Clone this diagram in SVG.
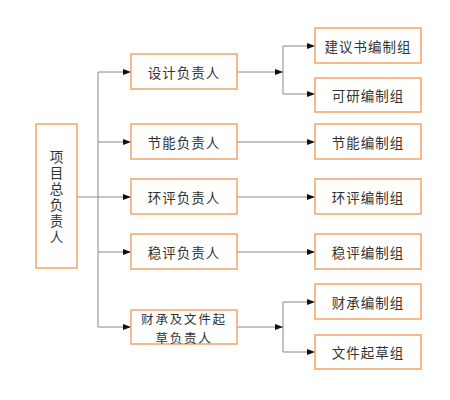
<svg xmlns="http://www.w3.org/2000/svg" width="450" height="400" viewBox="0 0 450 400">
<style>
.box{fill:#fff;stroke:#F5A26A;stroke-width:1.5}
.t{font-family:"Noto Sans CJK SC","Noto Sans",sans-serif;font-size:13.5px;fill:#333;text-anchor:middle;dominant-baseline:central;letter-spacing:1px}
.s{font-size:12.5px;letter-spacing:1.8px}
.v{font-family:"Noto Sans CJK SC","Noto Sans",sans-serif;font-size:13.5px;fill:#333;text-anchor:middle;writing-mode:vertical-rl;letter-spacing:2.5px}
.ln{fill:none;stroke:#888;stroke-width:1}
</style>
<defs>
<marker id="ah" markerWidth="8" markerHeight="6" refX="8" refY="3" orient="auto" markerUnits="userSpaceOnUse">
<path d="M0,0 L8,3 L0,6 Z" fill="#111"/>
</marker>
</defs>
<rect width="450" height="400" fill="#fff"/>
<g id="connectors">
<path class="ln" d="M77,197 H98"/>
<path class="ln" d="M98,72 V327"/>
<path class="ln" d="M98,72 H131" marker-end="url(#ah)"/>
<path class="ln" d="M98,142 H131" marker-end="url(#ah)"/>
<path class="ln" d="M98,197 H131" marker-end="url(#ah)"/>
<path class="ln" d="M98,252 H131" marker-end="url(#ah)"/>
<path class="ln" d="M98,327 H131" marker-end="url(#ah)"/>
<path class="ln" d="M237,72 H283" marker-end="url(#ah)"/>
<path class="ln" d="M283,46 V94"/>
<path class="ln" d="M283,46 H315" marker-end="url(#ah)"/>
<path class="ln" d="M283,94 H315" marker-end="url(#ah)"/>
<path class="ln" d="M237,142 H315" marker-end="url(#ah)"/>
<path class="ln" d="M237,197 H315" marker-end="url(#ah)"/>
<path class="ln" d="M237,252 H315" marker-end="url(#ah)"/>
<path class="ln" d="M237,327 H283" marker-end="url(#ah)"/>
<path class="ln" d="M283,302 V352"/>
<path class="ln" d="M283,302 H315" marker-end="url(#ah)"/>
<path class="ln" d="M283,352 H315" marker-end="url(#ah)"/>
</g>
<g id="root">
<rect class="box" x="36" y="124" width="41" height="144"/>
<text class="v" x="56.5" y="198">项目总负责人</text>
</g>
<g id="design">
<rect class="box" x="131" y="54" width="106" height="35"/>
<text class="t" x="184" y="71.5">设计负责人</text>
</g>
<g id="energy">
<rect class="box" x="131" y="124" width="106" height="35"/>
<text class="t" x="184" y="141.5">节能负责人</text>
</g>
<g id="env">
<rect class="box" x="131" y="179" width="106" height="35"/>
<text class="t" x="184" y="196.5">环评负责人</text>
</g>
<g id="stab">
<rect class="box" x="131" y="234" width="106" height="35"/>
<text class="t" x="184" y="251.5">稳评负责人</text>
</g>
<g id="finance">
<rect class="box" x="131" y="310" width="106" height="34"/>
<text class="t s" x="184" y="318"><tspan x="184">财承及文件起</tspan><tspan x="184" dy="18.5">草负责人</tspan></text>
</g>
<g id="proposal">
<rect class="box" x="315" y="28" width="106" height="35"/>
<text class="t" x="368" y="45.5">建议书编制组</text>
</g>
<g id="feasibility">
<rect class="box" x="315" y="78" width="106" height="34"/>
<text class="t" x="368" y="95">可研编制组</text>
</g>
<g id="energy-grp">
<rect class="box" x="315" y="124" width="106" height="35"/>
<text class="t" x="368" y="141.5">节能编制组</text>
</g>
<g id="env-grp">
<rect class="box" x="315" y="179" width="106" height="35"/>
<text class="t" x="368" y="196.5">环评编制组</text>
</g>
<g id="stab-grp">
<rect class="box" x="315" y="234" width="106" height="35"/>
<text class="t" x="368" y="251.5">稳评编制组</text>
</g>
<g id="finance-grp">
<rect class="box" x="315" y="284" width="106" height="35"/>
<text class="t" x="368" y="301.5">财承编制组</text>
</g>
<g id="draft-grp">
<rect class="box" x="315" y="335" width="106" height="34"/>
<text class="t" x="368" y="352">文件起草组</text>
</g>
</svg>
